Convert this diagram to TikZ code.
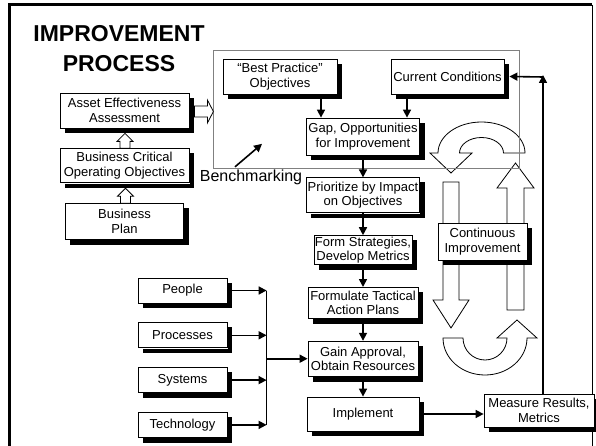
\documentclass[tikz,border=0pt]{standalone}
\usepackage{fontspec}
\setmainfont{Liberation Sans}
\usepackage{tikz}
\usetikzlibrary{positioning,calc,arrows.meta}
\tikzset{pbox/.style={draw, line width=0.8pt, fill=white, align=center, inner xsep=1pt, inner ysep=1pt, font=\fontsize{13}{14.5}\selectfont}}
\tikzset{wh/.style 2 args={minimum width=#1pt, minimum height=#2pt}}
\tikzset{arr/.style={draw, line width=1.6pt, -{Triangle[length=8pt,width=8pt]}}}
\tikzset{busline/.style={draw, line width=1.6pt}}
\tikzset{hollow/.style={draw, line width=0.8pt, fill=white}}
\tikzset{shadowfill/.style={fill=black, draw=none}}

\begin{document}
\begin{tikzpicture}[x=1pt,y=1pt]
    \useasboundingbox (0,0) rectangle (596,-446);
    % frame
    \draw[line width=3pt] (9,-446) -- (9,-5) -- (592,-5);
    \draw[line width=0.8pt] (592,-5) -- (592,-446);
    \node[font=\fontsize{23}{30}\selectfont\bfseries, align=center, inner sep=0] (title) at (119,-48.5) {IMPROVEMENT\\PROCESS};
%
    % continuous improvement loop
    \draw[hollow] (525,-153) arc[start angle=0, end angle=180, x radius=43.5, y radius=31]
        -- (430,-153) -- (451,-173) -- (472,-153) -- (459.5,-153)
        arc[start angle=180, end angle=0, x radius=22, y radius=15.5] -- cycle;
    \draw[hollow] (443,-338) arc[start angle=180, end angle=360, x radius=42, y radius=37]
        -- (537,-338) -- (517,-320) -- (497,-338) -- (507,-338)
        arc[start angle=0, end angle=-180, x radius=22, y radius=22] -- cycle;
    \draw[hollow] (443,-182) -- (459,-182) -- (459,-300) -- (469,-300) -- (451,-328) -- (433,-300) -- (443,-300) -- cycle;
    \draw[hollow] (507,-310) -- (524,-310) -- (524,-188) -- (534,-188) -- (515.5,-163) -- (497,-188) -- (507,-188) -- cycle;
    \node[draw=gray, line width=0.8pt, minimum width=306pt, minimum height=118pt] (bench) at (366,-109) {};
    \node[pbox, wh={89}{37}] (cont) at (482.5,-241.5) {Continuous\\Improvement};
%
    % benchmarking
    \node[pbox, wh={114}{35}] (best) at (280,-76.5) {``Best Practice''\\Objectives};
    \node[pbox, wh={113}{35}] (cond) at (447.5,-76.5) {Current Conditions};
    \node[pbox, wh={113}{37}] (gap) at (363,-136.5) {Gap, Opportunities\\for Improvement};
    \node[font=\fontsize{16}{16}\selectfont, inner sep=0] (benchlbl) at (251,-177.5) {Benchmarking};
    \draw[arr] ($(benchlbl.north)+(-16,3)$) -- ++(27,23);
%
    % main chain
    \node[pbox, wh={113}{35}, below=22pt of gap] (prio) {Prioritize by Impact\\on Objectives};
    \node[pbox, wh={98}{29}, below=22pt of prio] (form) {Form Strategies,\\Develop Metrics};
    \node[pbox, wh={110}{31}, below=22pt of form] (tact) {Formulate Tactical\\Action Plans};
    \node[pbox, wh={110}{35}, below=22pt of tact] (gain) {Gain Approval,\\Obtain Resources};
    \node[pbox, wh={112}{34}, below=20pt of gain] (impl) {Implement};
    \node[pbox, wh={110}{33}] (meas) at (539,-410.5) {Measure Results,\\Metrics};
%
    % resources
    \node[pbox, wh={89}{25}] (people) at (182.5,-290.5) {People};
    \node[pbox, wh={89}{25}, below=19pt of people] (proc) {Processes};
    \node[pbox, wh={89}{25}, below=19pt of proc] (syst) {Systems};
    \node[pbox, wh={89}{25}, below=19pt of syst] (tech) {Technology};
%
    % business side
    \node[pbox, wh={129}{35}] (asset) at (124.5,-110.5) {Asset Effectiveness\\Assessment};
    \node[pbox, wh={129}{34}, below=20pt of asset] (crit) {Business Critical\\Operating Objectives};
    \node[pbox, wh={118}{36}, below=20pt of crit] (plan) {Business\\Plan};
%
    % shadows: a strip right of and a strip below each box
    \foreach \n in {cont,best,cond,gap,prio,form,tact,gain,impl,meas,people,proc,syst,tech,asset,crit,plan}{
        \fill[shadowfill] ($(\n.north east)+(0.4,-5)$) rectangle ($(\n.south east)+(5,-5)$);
        \fill[shadowfill] ($(\n.south west)+(5,-0.4)$) rectangle ($(\n.south east)+(5,-5)$);
    }
    \draw[hollow] ($(asset.east)+(5,-1)+(0,5.5)$) -- ++(13,0) -- ++(0,6) -- ++(6,-11.5) -- ++(-6,-11.5) -- ++(0,6) -- ++(-13,0) -- cycle;
    \draw[hollow] ($(crit.north)+(-4.5,0)$) -- ++(0,7) -- ++(-3,0) -- ++(8,8) -- ++(8,-8) -- ++(-3,0) -- ++(0,-7) -- cycle;
    \draw[hollow] ($(plan.north)+(-4,0)$) -- ++(0,7) -- ++(-3,0) -- ++(8,8) -- ++(8,-8) -- ++(-3,0) -- ++(0,-7) -- cycle;
%
    % connectors
    \draw[arr] ([xshift=41pt]best.south) -- ([xshift=41pt]best.south |- gap.north);
    \draw[arr] ([xshift=-40.5pt]cond.south) -- ([xshift=-40.5pt]cond.south |- gap.north);
    \draw[arr] (gap) -- (prio);
    \draw[arr] (prio) -- (form);
    \draw[arr] (form) -- (tact);
    \draw[arr] (tact) -- (gain);
    \draw[arr] (gain) -- (impl);
    \coordinate (bus) at ($(gain.west)+(-41,0)$);
    \foreach \n in {people,proc,syst,tech}
        \draw[arr] (\n.east) -- (\n.east -| bus);
    \draw[busline] (people.east -| bus) -- (tech.east -| bus);
    \draw[arr] (bus) -- (gain.west);
    \draw[arr] (impl.east) -- (impl.east -| meas.west);
    \coordinate (ret) at (543,-75);
    \draw[arr] (meas.north -| ret) -- (ret);
    \draw[arr] ([yshift=-2pt]ret) -- ([xshift=5pt]cond.east);
\end{tikzpicture}
\end{document}
